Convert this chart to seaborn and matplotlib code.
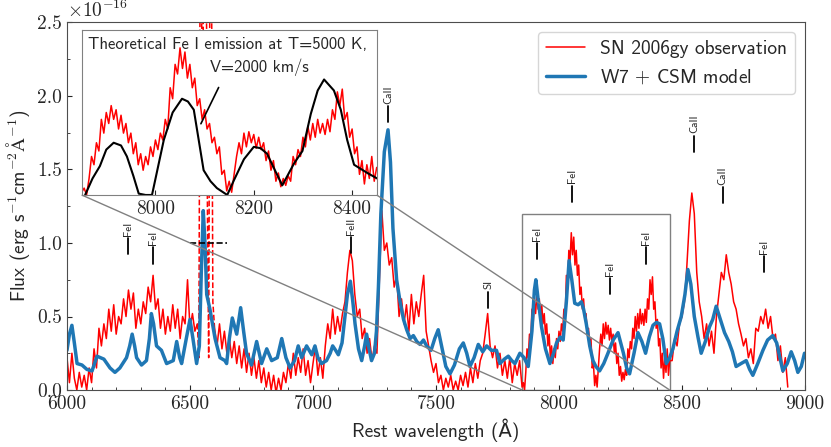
import numpy as np
import pandas as pd
import seaborn as sns
import matplotlib.pyplot as plt
from matplotlib.ticker import MultipleLocator, FormatStrFormatter
from mpl_toolkits.axes_grid1.inset_locator import mark_inset

# SN 2006gy observed spectrum (flux in 1e-16 erg/s/cm2/A)
# 6000-6530 A, every 10 A
obs_a_start, obs_a_step = 6000, 10
obs_a_flux = [0.22, 0.05, 0.25, 0.08, 0.00, 0.12, 0.02, 0.10, 0.00, 0.15,
              0.05, 0.28, 0.15, 0.42, 0.30, 0.45, 0.35, 0.55, 0.40, 0.58,
              0.38, 0.50, 0.45, 0.62, 0.50, 0.68, 0.55, 0.66, 0.42, 0.55,
              0.45, 0.60, 0.52, 0.70, 0.60, 0.78, 0.55, 0.62, 0.42, 0.55,
              0.38, 0.50, 0.40, 0.58, 0.42, 0.55, 0.35, 0.50, 0.45, 0.75,
              0.42, 0.52, 0.40, 0.45]
# 6600-7840 A, every 10 A
obs_b_start, obs_b_step = 6600, 10
obs_b_flux = [0.42, 0.30, 0.45, 0.28, 0.40, 0.25, 0.35, 0.22, 0.33, 0.18,
              0.30, 0.15, 0.28, 0.12, 0.25, 0.10, 0.22, 0.08, 0.20, 0.05,
              0.15, 0.02, 0.12, 0.00, 0.10, -0.02, 0.08, 0.00, 0.12, 0.05,
              0.18, 0.08, 0.25, 0.10, 0.22, 0.12, 0.28, 0.10, 0.20, 0.05,
              0.18, 0.30, 0.10, 0.22, 0.08, 0.30, 0.45, 0.35, 0.55, 0.38,
              0.50, 0.40, 0.52, 0.60, 0.80, 0.95, 0.88, 0.65, 0.50, 0.55,
              0.35, 0.42, 0.25, 0.35, 0.20, 0.30, 0.25, 0.75, 1.22, 0.95,
              1.00, 0.85, 0.90, 0.70, 0.78, 0.50, 0.62, 0.45, 0.58, 0.40,
              0.65, 0.45, 0.60, 0.50, 0.65, 0.78, 0.40, 0.30, 0.20, 0.12,
              0.18, 0.05, 0.10, 0.00, 0.08, 0.02, 0.10, 0.00, 0.06, 0.00,
              0.10, 0.03, 0.12, 0.02, 0.15, 0.05, 0.18, 0.08, 0.20, 0.25,
              0.38, 0.52, 0.30, 0.22, 0.30, 0.15, 0.25, 0.10, 0.20, 0.08,
              0.22, 0.05, 0.18, 0.10, 0.20]
# 7850-8450 A, every 5 A (inset region)
obs_c_start, obs_c_step = 7850, 5
obs_c_flux = [0.02, 0.05, 0.00, 0.12, 0.28, 0.22, 0.38, 0.32, 0.55, 0.45,
              0.60, 0.52, 0.65, 0.55, 0.62, 0.48, 0.58, 0.45, 0.52, 0.38,
              0.45, 0.30, 0.38, 0.22, 0.30, 0.18, 0.28, 0.22, 0.35, 0.28,
              0.40, 0.33, 0.45, 0.40, 0.55, 0.48, 0.78, 0.70, 0.95, 0.88,
              1.07, 0.92, 1.04, 0.85, 0.95, 0.78, 0.85, 0.65, 0.70, 0.55,
              0.62, 0.48, 0.52, 0.38, 0.42, 0.30, 0.35, 0.15, 0.18, 0.03,
              0.10, 0.02, 0.15, 0.28, 0.38, 0.30, 0.45, 0.35, 0.46, 0.38,
              0.44, 0.34, 0.42, 0.33, 0.38, 0.25, 0.32, 0.18, 0.25, 0.10,
              0.16, 0.06, 0.12, 0.07, 0.14, 0.10, 0.28, 0.22, 0.33, 0.28,
              0.42, 0.35, 0.50, 0.40, 0.52, 0.42, 0.55, 0.45, 0.52, 0.44,
              0.55, 0.46, 0.62, 0.55, 0.75, 0.65, 0.77, 0.55, 0.60, 0.42,
              0.48, 0.30, 0.35, 0.15, 0.25, 0.08, 0.22, 0.12, 0.28, 0.10,
              0.20]
# 8460-8930 A, every 10 A
obs_d_start, obs_d_step = 8460, 10
obs_d_flux = [0.20, 0.35, 0.30, 0.45,
              0.50, 0.60, 0.85, 1.15, 1.34, 1.20, 0.80, 0.60, 0.50, 0.35,
              0.45, 0.30, 0.40, 0.25, 0.50, 0.65, 0.80, 0.75, 0.92, 0.80,
              0.72, 0.60, 0.55, 0.45, 0.38, 0.30, 0.35, 0.22, 0.28, 0.18,
              0.42, 0.40, 0.50, 0.45, 0.55, 0.42, 0.50, 0.35, 0.38, 0.20,
              0.30, 0.12, 0.22, 0.02]

# narrow H-alpha region (drawn dashed)
halpha_wave = [6530, 6536, 6541, 6546, 6551, 6556, 6561, 6566, 6571, 6576, 6581, 6587, 6593, 6600]
halpha_flux = [0.45, 0.22, 2.80, 3.00, 1.50, 3.20, 2.90, 3.00, 1.20, 0.22, 2.90, 3.10, 0.60, 0.42]

# W7 + CSM model
model_wave = [6000, 6010, 6020, 6030, 6041, 6061, 6081, 6102, 6122, 6150, 6175, 6195, 6215, 6242,
              6255, 6265, 6275, 6283, 6303, 6323, 6335, 6343, 6352, 6364, 6384, 6405, 6432, 6446,
              6458, 6466, 6485, 6500, 6512, 6527, 6538, 6546, 6554, 6561, 6568, 6581, 6602, 6622,
              6642, 6649, 6660, 6672, 6690, 6706, 6718, 6730, 6750, 6771, 6791, 6812, 6832, 6855,
              6873, 6890, 6907, 6925, 6940, 6954, 6974, 6995, 7008, 7020, 7035, 7055, 7070, 7080,
              7092, 7103, 7118, 7130, 7140, 7152, 7162, 7171, 7185, 7198, 7210, 7218, 7228, 7238,
              7250, 7258, 7266, 7276, 7290, 7305, 7315, 7325, 7340, 7354, 7368, 7381, 7395, 7408,
              7422, 7435, 7449, 7462, 7480, 7495, 7509, 7525, 7540, 7557, 7575, 7595, 7611, 7625,
              7638, 7655, 7672, 7690, 7706, 7725, 7746, 7760, 7778, 7794, 7808, 7821, 7841, 7858,
              7875, 7890, 7900, 7906, 7915, 7929, 7945, 7963, 7978, 7990, 8005, 8017, 8030, 8041,
              8052, 8064, 8078, 8091, 8100, 8111, 8125, 8138, 8150, 8165, 8182, 8199, 8220, 8240,
              8262, 8275, 8287, 8305, 8321, 8337, 8352, 8367, 8382, 8396, 8409, 8422, 8436, 8450,
              8463, 8480, 8497, 8512, 8524, 8536, 8550, 8565, 8578, 8595, 8612, 8625, 8639, 8656,
              8673, 8690, 8705, 8720, 8740, 8761, 8775, 8788, 8808, 8829, 8848, 8869, 8885, 8898,
              8910, 8928, 8944, 8958, 8971, 8985, 8998]
model_flux = [0.27, 0.38, 0.44, 0.32, 0.18, 0.17, 0.14, 0.13, 0.23, 0.21, 0.15, 0.12, 0.15, 0.22,
              0.30, 0.38, 0.30, 0.22, 0.17, 0.20, 0.35, 0.52, 0.45, 0.30, 0.27, 0.18, 0.20, 0.33,
              0.22, 0.18, 0.35, 0.48, 0.35, 0.18, 0.30, 0.80, 1.22, 1.00, 0.65, 0.55, 0.35, 0.22,
              0.20, 0.18, 0.35, 0.49, 0.38, 0.56, 0.40, 0.25, 0.17, 0.33, 0.18, 0.28, 0.20, 0.22,
              0.35, 0.22, 0.15, 0.20, 0.30, 0.22, 0.30, 0.24, 0.30, 0.22, 0.18, 0.20, 0.25, 0.30,
              0.27, 0.24, 0.32, 0.50, 0.65, 0.74, 0.60, 0.45, 0.28, 0.20, 0.30, 0.38, 0.28, 0.20,
              0.25, 0.40, 0.70, 1.20, 1.62, 1.77, 1.55, 1.10, 0.75, 0.60, 0.48, 0.41, 0.35, 0.37,
              0.33, 0.31, 0.34, 0.30, 0.27, 0.35, 0.41, 0.28, 0.16, 0.11, 0.17, 0.28, 0.32, 0.25,
              0.16, 0.22, 0.31, 0.26, 0.30, 0.27, 0.27, 0.18, 0.21, 0.23, 0.20, 0.18, 0.25, 0.22,
              0.16, 0.40, 0.68, 0.75, 0.62, 0.43, 0.28, 0.18, 0.25, 0.32, 0.36, 0.34, 0.60, 0.88,
              0.75, 0.59, 0.58, 0.60, 0.55, 0.45, 0.30, 0.20, 0.16, 0.13, 0.18, 0.25, 0.34, 0.39,
              0.25, 0.15, 0.11, 0.25, 0.39, 0.33, 0.25, 0.36, 0.44, 0.46, 0.45, 0.35, 0.18, 0.22,
              0.28, 0.40, 0.50, 0.65, 0.82, 0.72, 0.50, 0.36, 0.25, 0.33, 0.43, 0.48, 0.57, 0.48,
              0.39, 0.33, 0.26, 0.16, 0.18, 0.20, 0.14, 0.10, 0.18, 0.27, 0.34, 0.37, 0.32, 0.22,
              0.13, 0.18, 0.26, 0.20, 0.12, 0.16, 0.25]

# theoretical Fe I emission (inset)
feI_wave = [7857, 7872, 7887, 7900, 7915, 7930, 7942, 7955, 7966, 7980, 7993, 8005, 8017, 8035,
            8054, 8066, 8078, 8088, 8098, 8112, 8125, 8146, 8160, 8180, 8200, 8214, 8227, 8243,
            8258, 8270, 8282, 8299, 8316, 8330, 8343, 8363, 8377, 8390, 8404, 8431, 8451]
feI_flux = [0.00, 0.12, 0.21, 0.33, 0.38, 0.36, 0.28, 0.14, 0.01, 0.00, 0.00, 0.20, 0.40, 0.60,
            0.70, 0.68, 0.62, 0.40, 0.18, 0.10, 0.05, 0.00, 0.11, 0.26, 0.35, 0.34, 0.30, 0.18,
            0.07, 0.15, 0.23, 0.32, 0.59, 0.76, 0.84, 0.76, 0.62, 0.40, 0.22, 0.16, 0.12]

# line identifications
line_wave = [6247, 6350, 7153, 7306, 7713, 7912, 8052, 8207, 8354, 8549, 8665, 8833]
line_base = [0.925, 0.86, 0.93, 1.82, 0.56, 0.89, 1.28, 0.65, 0.86, 1.62, 1.27, 0.80]
line_name = ['FeI', 'FeI', 'FeII', 'CaII', 'SI', 'FeI', 'FeI', 'FeI', 'FeI', 'CaII', 'CaII', 'FeI']

level_x = [6500, 6650]
level_y = [1.0, 1.0]


def segment(start, step, flux):
    return pd.DataFrame({'wave': start + step * np.arange(len(flux)), 'flux': flux})


obs_left = segment(obs_a_start, obs_a_step, obs_a_flux)
obs_right = pd.concat([segment(obs_b_start, obs_b_step, obs_b_flux),
                       segment(obs_c_start, obs_c_step, obs_c_flux),
                       segment(obs_d_start, obs_d_step, obs_d_flux)])

sns.set_style("ticks")
plt.rcParams['font.family'] = ['cmss10', 'DejaVu Sans']
plt.rcParams['mathtext.fontset'] = 'cm'
plt.rcParams['axes.unicode_minus'] = False
plt.rcParams['axes.edgecolor'] = '0.3'
plt.rcParams['xtick.direction'] = 'in'
plt.rcParams['ytick.direction'] = 'in'

fig = plt.figure(figsize=(8.31, 4.47), dpi=100)
ax = fig.add_axes([0.0806, 0.1275, 0.8881, 0.8222])

sns.lineplot(data=obs_left, x='wave', y='flux', color='red', lw=1.1, ax=ax,
             estimator=None, sort=False, label='SN 2006gy observation')
sns.lineplot(data=obs_right, x='wave', y='flux', color='red', lw=1.1, ax=ax,
             estimator=None, sort=False)
sns.lineplot(x=halpha_wave, y=halpha_flux, color='red', lw=1.1, ls='--', ax=ax,
             estimator=None, sort=False)
sns.lineplot(x=model_wave, y=model_flux, color='#1f77b4', lw=2.5, ax=ax,
             estimator=None, sort=False, label='W7 $+$ CSM model')
ax.plot(level_x, level_y, 'k--', lw=1.2)

for wl, y0, name in zip(line_wave, line_base, line_name):
    ax.plot([wl, wl], [y0, y0 + 0.11], color='k', lw=1.3)
    ax.text(wl, y0 + 0.125, name, rotation=90, ha='center', va='bottom', fontsize=8)

ax.set_xlim(6000, 9000)
ax.set_ylim(0, 2.5)
ax.xaxis.set_major_locator(MultipleLocator(500))
ax.xaxis.set_minor_locator(MultipleLocator(100))
ax.yaxis.set_major_locator(MultipleLocator(0.5))
ax.yaxis.set_minor_locator(MultipleLocator(0.25))
ax.yaxis.set_major_formatter(FormatStrFormatter('%.1f'))
ax.tick_params(labelsize=14, labelfontfamily='cmr10')
ax.set_xlabel('Rest wavelength (Å)', fontsize=14)
ax.set_ylabel(r'Flux (erg s$^{-1}$cm$^{-2}\mathrm{\AA}^{-1}$)', fontsize=14)
ax.text(0.0, 1.003, r'$\times10^{-16}$', transform=ax.transAxes, fontsize=14,
        ha='left', va='bottom')
ax.legend(loc='upper right', fontsize=14)

# inset zoom on the Fe I region
axin = fig.add_axes([0.0983, 0.5638, 0.355, 0.3691])
axin.set_facecolor('white')
sns.lineplot(data=obs_right, x='wave', y='flux', color='red', lw=1.1, ax=axin,
             estimator=None, sort=False)
sns.lineplot(x=feI_wave, y=feI_flux, color='black', lw=1.5, ax=axin,
             estimator=None, sort=False)
axin.set_xlim(7850, 8450)
axin.set_ylim(0, 1.2)
axin.set_xticks([8000, 8200, 8400])
axin.set_yticks([])
axin.set_xlabel('')
axin.set_ylabel('')
axin.tick_params(labelsize=14, labelfontfamily='cmr10')
for s in axin.spines.values():
    s.set_color('0.5')
axin.text(0.02, 0.955, 'Theoretical Fe I emission at T=5000 K,', transform=axin.transAxes,
          fontsize=12, ha='left', va='top')
axin.text(0.604, 0.83, 'V=2000 km/s', transform=axin.transAxes,
          fontsize=12, ha='center', va='top')
axin.annotate('', xy=(8090, 0.50), xytext=(8131, 0.80),
              arrowprops=dict(arrowstyle='-', color='k', lw=1.2))
mark_inset(ax, axin, loc1=3, loc2=4, fc='none', ec='0.5', lw=1)

fig.savefig('out.png', dpi=100)
